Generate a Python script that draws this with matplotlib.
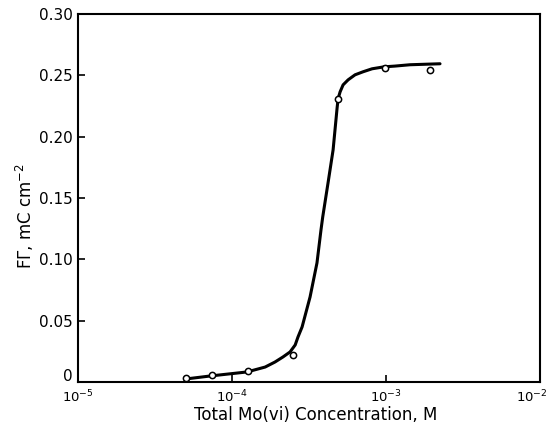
import matplotlib
matplotlib.use("Agg")
import matplotlib.pyplot as plt
import matplotlib.transforms as mtransforms

# measured points (total Mo(VI) concentration, M ; F*Gamma, mC cm^-2)
conc = [5.0e-5, 7.4e-5, 1.26e-4, 2.5e-4, 4.9e-4, 9.9e-4, 1.93e-3]
fgamma = [0.003, 0.0057, 0.009, 0.022, 0.231, 0.256, 0.2545]

# smooth curve
curve_conc = [4.95e-5, 7.2e-5, 1.25e-4, 1.64e-4, 1.90e-4, 2.14e-4, 2.38e-4,
              2.57e-4, 2.68e-4, 2.85e-4, 3.21e-4, 3.56e-4, 3.78e-4, 3.88e-4,
              4.20e-4, 4.53e-4, 4.81e-4, 4.88e-4, 5.03e-4, 5.26e-4, 5.67e-4,
              6.29e-4, 7.10e-4, 8.11e-4, 9.70e-4, 1.14e-3, 1.43e-3, 2.24e-3]
curve_fg = [0.0024, 0.0049, 0.0082, 0.0122, 0.0163, 0.0204, 0.0245,
            0.0302, 0.0367, 0.0449, 0.0693, 0.0971, 0.124, 0.1346,
            0.1623, 0.1892, 0.2235, 0.2308, 0.2365, 0.2422, 0.2463,
            0.2504, 0.2529, 0.2553, 0.2569, 0.2575, 0.2586, 0.2594]

plt.rcParams['font.family'] = ['DejaVu Sans']

fig = plt.figure(figsize=(5.51, 4.32), dpi=100)
ax = fig.add_axes([0.1416, 0.1157, 0.8386, 0.852])

ax.plot(curve_conc, curve_fg, color='black', lw=2.2,
        solid_capstyle='round', solid_joinstyle='round')
ax.plot(conc, fgamma, 'o', mfc='white', mec='black', ms=4.5, mew=1.1)

ax.set_xscale('log')
ax.set_xlim(1e-5, 1e-2)
ax.set_ylim(0, 0.30)
ax.set_xticks([1e-5, 1e-4, 1e-3, 1e-2])
ax.set_xticklabels([r'$10^{-5}$', r'$10^{-4}$', r'$10^{-3}$', r'$10^{-2}$'])
ax.minorticks_off()
ax.set_yticks([0, 0.05, 0.10, 0.15, 0.20, 0.25, 0.30])
ax.set_yticklabels(['0', '0.05', '0.10', '0.15', '0.20', '0.25', '0.30'])
ax.tick_params(direction='in', length=5, width=1.2, labelsize=11, pad=4)
ax.tick_params(axis='x', labelsize=9.5, pad=5)

# nudge edge labels so they stay inside the figure, as in the original
xl = ax.get_xticklabels()
xl[-1].set_transform(xl[-1].get_transform() +
                     mtransforms.ScaledTranslation(-6 / 72, 0, fig.dpi_scale_trans))
yl = ax.get_yticklabels()
yl[0].set_transform(yl[0].get_transform() +
                    mtransforms.ScaledTranslation(0, 5 / 72, fig.dpi_scale_trans))

for s in ax.spines.values():
    s.set_linewidth(1.5)

ax.set_xlabel('Total Mo(vi) Concentration, M', fontsize=12)
ax.set_ylabel(r'F$\Gamma$, mC cm$^{-2}$', fontsize=12)
ax.xaxis.set_label_coords(0.515, -0.065)
ax.yaxis.set_label_coords(-0.09, 0.45)

fig.savefig('out.png', dpi=100)
